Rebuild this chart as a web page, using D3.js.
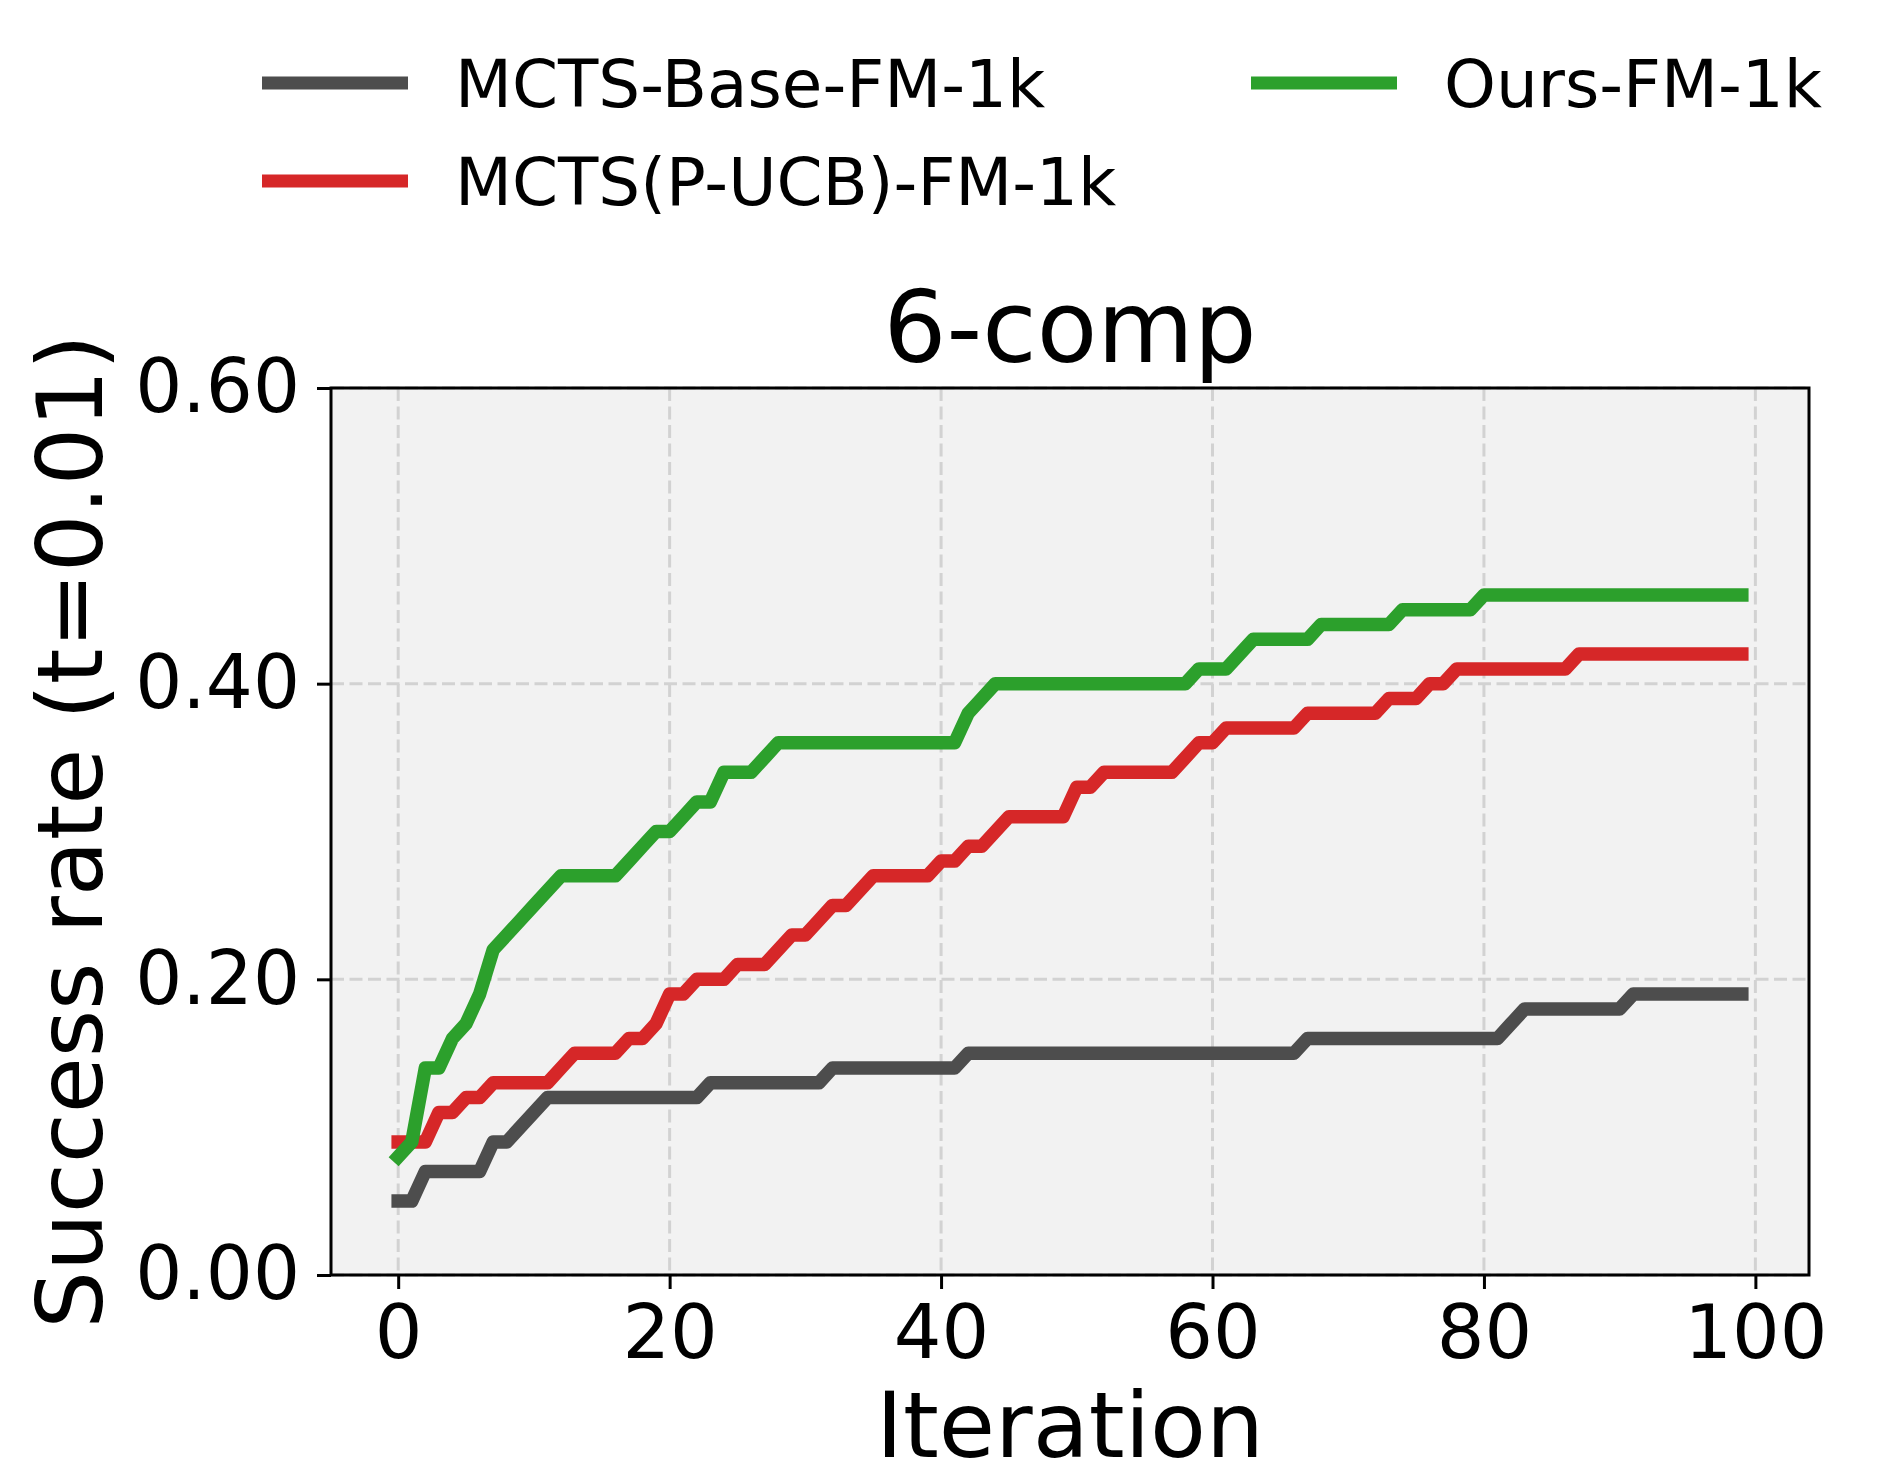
<!DOCTYPE html>
<meta charset="utf-8">
<style>
body { margin: 0; background: #fff; }
text { font-family: "DejaVu Sans", sans-serif; fill: #000; }
</style>
<body>
<script src="https://d3js.org/d3.v7.min.js"></script>
<script>
var iterations = [0,1,2,3,4,5,6,7,8,9,10,11,12,13,14,15,16,17,18,19,
  20,21,22,23,24,25,26,27,28,29,30,31,32,33,34,35,36,37,38,39,
  40,41,42,43,44,45,46,47,48,49,50,51,52,53,54,55,56,57,58,59,
  60,61,62,63,64,65,66,67,68,69,70,71,72,73,74,75,76,77,78,79,
  80,81,82,83,84,85,86,87,88,89,90,91,92,93,94,95,96,97,98,99];

var baseValues = [0.05,0.05,0.07,0.07,0.07,0.07,0.07,0.09,0.09,0.10,
  0.11,0.12,0.12,0.12,0.12,0.12,0.12,0.12,0.12,0.12,
  0.12,0.12,0.12,0.13,0.13,0.13,0.13,0.13,0.13,0.13,
  0.13,0.13,0.14,0.14,0.14,0.14,0.14,0.14,0.14,0.14,
  0.14,0.14,0.15,0.15,0.15,0.15,0.15,0.15,0.15,0.15,
  0.15,0.15,0.15,0.15,0.15,0.15,0.15,0.15,0.15,0.15,
  0.15,0.15,0.15,0.15,0.15,0.15,0.15,0.16,0.16,0.16,
  0.16,0.16,0.16,0.16,0.16,0.16,0.16,0.16,0.16,0.16,
  0.16,0.16,0.17,0.18,0.18,0.18,0.18,0.18,0.18,0.18,
  0.18,0.19,0.19,0.19,0.19,0.19,0.19,0.19,0.19,0.19];

var pucbValues = [0.09,0.09,0.09,0.11,0.11,0.12,0.12,0.13,0.13,0.13,
  0.13,0.13,0.14,0.15,0.15,0.15,0.15,0.16,0.16,0.17,
  0.19,0.19,0.20,0.20,0.20,0.21,0.21,0.21,0.22,0.23,
  0.23,0.24,0.25,0.25,0.26,0.27,0.27,0.27,0.27,0.27,
  0.28,0.28,0.29,0.29,0.30,0.31,0.31,0.31,0.31,0.31,
  0.33,0.33,0.34,0.34,0.34,0.34,0.34,0.34,0.35,0.36,
  0.36,0.37,0.37,0.37,0.37,0.37,0.37,0.38,0.38,0.38,
  0.38,0.38,0.38,0.39,0.39,0.39,0.40,0.40,0.41,0.41,
  0.41,0.41,0.41,0.41,0.41,0.41,0.41,0.42,0.42,0.42,
  0.42,0.42,0.42,0.42,0.42,0.42,0.42,0.42,0.42,0.42];

var oursValues = [0.08,0.09,0.14,0.14,0.16,0.17,0.19,0.22,0.23,0.24,
  0.25,0.26,0.27,0.27,0.27,0.27,0.27,0.28,0.29,0.30,
  0.30,0.31,0.32,0.32,0.34,0.34,0.34,0.35,0.36,0.36,
  0.36,0.36,0.36,0.36,0.36,0.36,0.36,0.36,0.36,0.36,
  0.36,0.36,0.38,0.39,0.40,0.40,0.40,0.40,0.40,0.40,
  0.40,0.40,0.40,0.40,0.40,0.40,0.40,0.40,0.40,0.41,
  0.41,0.41,0.42,0.43,0.43,0.43,0.43,0.43,0.44,0.44,
  0.44,0.44,0.44,0.44,0.45,0.45,0.45,0.45,0.45,0.45,
  0.46,0.46,0.46,0.46,0.46,0.46,0.46,0.46,0.46,0.46,
  0.46,0.46,0.46,0.46,0.46,0.46,0.46,0.46,0.46,0.46];

var seriesNames = ["MCTS-Base-FM-1k", "MCTS(P-UCB)-FM-1k", "Ours-FM-1k"];
var seriesColors = ["#4d4d4d", "#d62728", "#2ca02c"];
var xTicks = [0, 20, 40, 60, 80, 100];
var yTicks = [0, 0.2, 0.4, 0.6];

var W = 1882, H = 1465;
var plot = {left: 331, right: 1809, top: 388, bottom: 1275};

var svg = d3.select("body").append("svg").attr("width", W).attr("height", H);

var x = d3.scaleLinear().domain([-4.95, 103.95]).range([plot.left, plot.right]);
var y = d3.scaleLinear().domain([0, 0.6]).range([plot.bottom, plot.top]);

// background
svg.append("rect").attr("x", plot.left).attr("y", plot.top)
  .attr("width", plot.right - plot.left).attr("height", plot.bottom - plot.top)
  .style("fill", "#f2f2f2");

// grid
var grid = svg.append("g");
xTicks.forEach(function(t){
  grid.append("line").attr("x1", x(t)).attr("x2", x(t)).attr("y1", plot.top).attr("y2", plot.bottom)
    .style("stroke", "#d2d2d2").style("stroke-width", 3).style("stroke-dasharray", "13,5.5");
});
yTicks.forEach(function(t){
  grid.append("line").attr("x1", plot.left).attr("x2", plot.right).attr("y1", y(t)).attr("y2", y(t))
    .style("stroke", "#d2d2d2").style("stroke-width", 3).style("stroke-dasharray", "13,5.5");
});

// lines
var line = d3.line().x(function(d, i){ return x(iterations[i]); }).y(function(d){ return y(d); });
[baseValues, pucbValues, oursValues].forEach(function(vals, k){
  svg.append("path").datum(vals).attr("d", line)
    .style("fill", "none").style("stroke", seriesColors[k]).style("stroke-width", 13.5)
    .style("stroke-linejoin", "round").style("stroke-linecap", "square");
});

// axes
var xAxis = svg.append("g").attr("transform", "translate(0," + plot.bottom + ")")
  .call(d3.axisBottom(x).tickValues(xTicks).tickSize(14).tickPadding(16).tickFormat(d3.format("d")));
var yAxis = svg.append("g").attr("transform", "translate(" + plot.left + ",0)")
  .call(d3.axisLeft(y).tickValues(yTicks).tickSize(14).tickPadding(17).tickFormat(d3.format(".2f")));
[xAxis, yAxis].forEach(function(a){
  a.select(".domain").remove();
  a.selectAll(".tick line").style("stroke", "#000").style("stroke-width", 3);
  a.selectAll("text").style("font-family", "DejaVu Sans").style("font-size", "75px").style("fill", "#000");
});
yAxis.selectAll("text").style("font-size", "74px");
xAxis.selectAll("text").attr("dy", "0.71em");

// frame
svg.append("rect").attr("x", plot.left).attr("y", plot.top)
  .attr("width", plot.right - plot.left).attr("height", plot.bottom - plot.top)
  .style("fill", "none").style("stroke", "#000").style("stroke-width", 3);

// title and labels
svg.append("text").attr("x", (plot.left + plot.right) / 2).attr("y", 362)
  .attr("text-anchor", "middle").style("font-size", "99px").text("6-comp");
svg.append("text").attr("x", (plot.left + plot.right) / 2).attr("y", 1457)
  .attr("text-anchor", "middle").style("font-size", "91.5px").text("Iteration");
svg.append("text").attr("transform", "translate(102," + ((plot.top + plot.bottom) / 2) + ") rotate(-90)")
  .attr("text-anchor", "middle").style("font-size", "91px").text("Success rate (t=0.01)");

// legend
var legendPos = [[262, 83], [262, 181], [1251, 83]];
seriesNames.forEach(function(name, k){
  var p = legendPos[k];
  svg.append("line").attr("x1", p[0]).attr("x2", p[0] + 146).attr("y1", p[1]).attr("y2", p[1])
    .style("stroke", seriesColors[k]).style("stroke-width", 13);
  svg.append("text").attr("x", p[0] + 193).attr("y", p[1] + 24)
    .style("font-size", "66px").text(name);
});
</script>
